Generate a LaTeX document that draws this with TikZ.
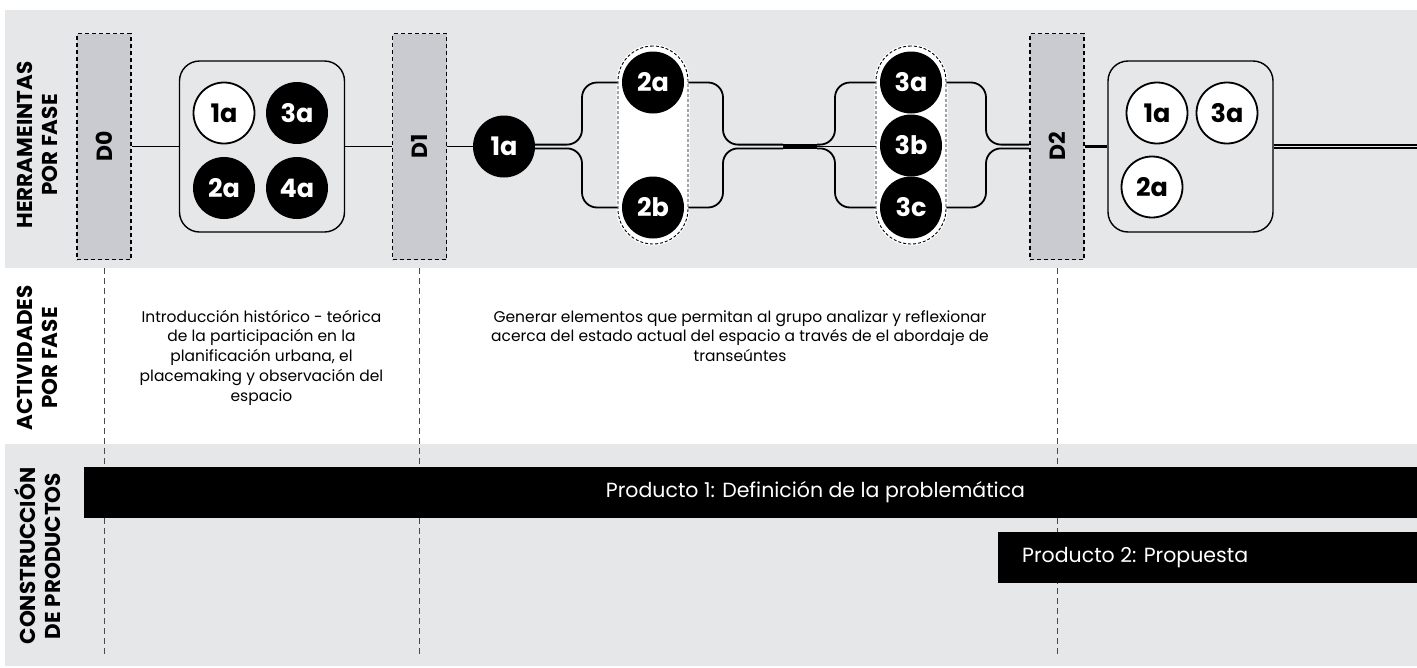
\documentclass[tikz,border=0pt]{standalone}
\usepackage{fontspec}
\setmainfont{Poppins}
\usetikzlibrary{calc}
\definecolor{band}{HTML}{E6E7E9}
\definecolor{dfill}{HTML}{C9CBD1}
\definecolor{guidec}{HTML}{4A4A4A}
\begin{document}
\begin{tikzpicture}[x=1pt,y=-1pt,
  dbox/.style={draw=black, fill=dfill, line width=1.9pt, dash pattern=on 4pt off 3pt, minimum width=54pt, minimum height=226pt, inner sep=0pt, font=\bfseries\fontsize{22}{22}\selectfont},
  rbox/.style={draw=black, fill=band, line width=1.4pt, rounded corners=20pt, minimum width=165pt, minimum height=171pt, inner sep=0pt},
  bc/.style={circle, fill=black, minimum size=62pt, inner sep=0pt, text=white, font=\bfseries\fontsize{25.5}{25.5}\selectfont},
  wc/.style={circle, draw=black, line width=1.8pt, fill=white, minimum size=61pt, inner sep=0pt, font=\bfseries\fontsize{25.5}{25.5}\selectfont},
  pill/.style={draw=black, fill=white, line width=0.9pt, dash pattern=on 3pt off 2pt, rounded corners=35pt, minimum width=70pt, minimum height=198pt, inner sep=0pt, preaction={draw=white, solid, line width=3pt}},
  ln/.style={line width=1.9pt},
  br/.style={line width=1.8pt, rounded corners=15pt},
  guide/.style={draw=guidec, line width=0.9pt, dash pattern=on 6pt off 4pt},
  hdr/.style={rotate=90, align=center, inner sep=0pt, font=\bfseries\fontsize{21.5}{24.5}\selectfont},
  body/.style={align=center, inner sep=0pt, font=\fontsize{15.5}{19.7}\selectfont},
  bar/.style={fill=black, inner sep=0pt, anchor=north west},
  bartext/.style={text=white, inner sep=0pt, font=\fontsize{20.5}{20.5}\selectfont}
]
\useasboundingbox (0,0) rectangle (1417,667);
% bands
\fill[band] (5,10) rectangle (1417,268);
\fill[band] (5,444) rectangle (1417,666);
% guides
\coordinate (g0) at (104,268); \coordinate (g0e) at (104,657);
\coordinate (g1) at (419.5,268); \coordinate (g1e) at (419.5,657);
\coordinate (g2) at (1057,268); \coordinate (g2e) at (1057,657);
\draw[guide] (g0) -- (g0e);
\draw[guide] (g1) -- (g1e);
\draw[guide] (g2) -- (g2e);
% headers
\node[hdr] (h1) at (37.5,145) {HERRAMEINTAS\\POR FASE};
\node[hdr] (h2) at (37.5,358) {ACTIVIDADES\\POR FASE};
\node[hdr] (h3) at (37.5,556) {CONSTRUCCIÓN\\DE PRODUCTOS};
% D boxes
\node[dbox] (D0) at (104,146.5) {\rotatebox{90}{D0}};
\node[dbox] (D1) at (419.5,146.5) {\rotatebox{90}{D1}};
\node[dbox] (D2) at (1057,146.5) {\rotatebox{90}{D2}};
% box 1
\node[rbox] (B1) at (262,146.5) {};
\node[wc] (c11) at (224,113) {1a};
\node[bc] (c13) at (297,113) {3a};
\node[bc] (c12) at (224,188) {2a};
\node[bc] (c14) at (297,188) {4a};
\draw[ln] (D0) -- (B1);
\draw[ln] (B1) -- (D1);
% 1a
\node[bc] (n1a) at (504,146.5) {1a};
\draw[ln] (D1) -- (n1a);
% group 2
\node[pill] (P2) at (653,145) {};
\node[bc] (n2a) at (653,82.5) {2a};
\node[bc] (n2b) at (653,207.5) {2b};
\draw[br] ($(n1a.east)+(0,-1.9)$) -| (582,82.5) -- (P2.west |- n2a);
\draw[br] ($(n1a.east)+(0,1.9)$) -| (582,207.5) -- (P2.west |- n2b);
\coordinate (m1) at (783,146.5);
\coordinate (m2) at (817,146.5);
\draw[br] (P2.east |- n2a) -| ($(m1)+(-60,-1.9)$) -- ($(m1)+(0,-1.9)$);
\draw[br] (P2.east |- n2b) -| ($(m1)+(-60,1.9)$) -- ($(m1)+(0,1.9)$);
\draw[line width=5.6pt] (m1) -- (m2);
% group 3
\node[pill] (P3) at (911,145) {};
\node[bc] (n3a) at (911,82.5) {3a};
\node[bc] (n3b) at (911,145.5) {3b};
\node[bc] (n3c) at (911,207.5) {3c};
\draw[br] ($(m2)+(0,-1.9)$) -| (835,82.5) -- (P3.west |- n3a);
\draw[br] ($(m2)+(0,1.9)$) -| (835,207.5) -- (P3.west |- n3c);
\draw[ln] (m2) -- (P3.west |- m2);
\draw[br] (P3.east |- n3a) -| (986,144.6) -- ($(D2.west)+(0,-1.9)$);
\draw[br] (P3.east |- n3c) -| (986,148.4) -- ($(D2.west)+(0,1.9)$);
% box 3
\node[rbox] (B3) at (1190.5,146.5) {};
\node[wc] (c31) at (1157,113) {1a};
\node[wc] (c33) at (1227,113) {3a};
\node[wc] (c32) at (1152,187) {2a};
\draw[line width=2.6pt] (D2) -- (B3);
\coordinate (rend) at (1417,146.5);
\draw[ln] ($(B3.east)+(0,-1.9)$) -- ($(rend)+(0,-1.9)$);
\draw[ln] ($(B3.east)+(0,1.9)$) -- ($(rend)+(0,1.9)$);
% activities
\node[body] (t1) at (261.5,357.5) {Introducción histórico - teórica\\de la participación en la\\planificación urbana, el\\placemaking y observación del\\espacio};
\node[body] (t2) at (740,336) {Generar elementos que permitan al grupo analizar y reflexionar\\acerca del estado actual del espacio a través de el abordaje de\\transeúntes};
% products
\node[bar, minimum width=1333pt, minimum height=51pt] (bar1) at (84,467) {};
\node[bartext] (bt1) at (815.5,492.5) {Producto 1: Definición de la problemática};
\node[bar, minimum width=419pt, minimum height=51pt] (bar2) at (998,532) {};
\node[bartext, anchor=west] (bt2) at (1022,557.5) {Producto 2: Propuesta};
\end{tikzpicture}
\end{document}
